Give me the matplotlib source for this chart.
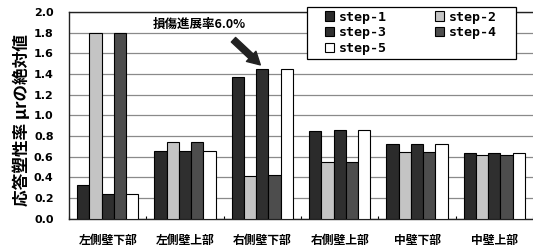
import matplotlib
matplotlib.use("Agg")
import matplotlib.pyplot as plt
import numpy as np
from matplotlib.patches import Patch, Rectangle

plt.rcParams['font.family'] = ['Noto Sans CJK JP', 'DejaVu Sans']

categories = ['左側壁下部', '左側壁上部', '右側壁下部', '右側壁上部', '中壁下部', '中壁上部']
series_names = ['step-1', 'step-2', 'step-3', 'step-4', 'step-5']
step1 = [0.33, 0.66, 1.37, 0.85, 0.72, 0.64]
step2 = [1.80, 0.74, 0.41, 0.55, 0.65, 0.62]
step3 = [0.24, 0.66, 1.45, 0.86, 0.72, 0.64]
step4 = [1.80, 0.74, 0.42, 0.55, 0.65, 0.62]
step5 = [0.24, 0.66, 1.45, 0.86, 0.72, 0.64]
y_ticks = [0.0, 0.2, 0.4, 0.6, 0.8, 1.0, 1.2, 1.4, 1.6, 1.8, 2.0]
ylabel = '応答塑性率 μrの絶対値'
annot_text = '損傷進展率6.0%'

series = [step1, step2, step3, step4, step5]
colors = ['#2b2b2b', '#c4c4c4', '#2f2f2f', '#4d4d4d', '#ffffff']

W, H = 533, 250
fig = plt.figure(figsize=(W / 100, H / 100), dpi=100)
ax = fig.add_axes([0.1295, 0.125, 0.8705, 0.827])

x = np.arange(len(categories))
bw = 0.158
handles = []
for i, (vals, c, name) in enumerate(zip(series, colors, series_names)):
    ax.bar(x + (i - 2) * bw, vals, width=bw, color=c, edgecolor='black',
           linewidth=0.8, zorder=3)
    handles.append(Patch(facecolor=c, edgecolor='black', linewidth=0.8, label=name))

ax.set_xlim(-0.5, len(categories) - 0.5)
ax.set_ylim(0, 2.0)
ax.set_yticks(y_ticks)
ax.set_yticklabels([f'{v:.1f}' for v in y_ticks], fontsize=8, fontweight='bold',
                   family=['DejaVu Sans'])
ax.set_xticks(x)
ax.set_xticklabels(categories, fontsize=8.5, fontweight='bold')
ax.set_xticks(np.arange(len(categories) + 1) - 0.5, minor=True)
ax.tick_params(axis='x', which='major', length=0, pad=11)
ax.tick_params(axis='x', which='minor', length=2.5, direction='in', width=0.8)
ax.tick_params(axis='y', length=0, pad=11)

ax.yaxis.grid(True, color='#8a8a8a', linewidth=0.9, zorder=0)
ax.set_axisbelow(True)
for s in ['left', 'bottom', 'top']:
    ax.spines[s].set_linewidth(1.0)
    ax.spines[s].set_color('#222222')
ax.spines['right'].set_visible(False)

fig.text(0.041, 0.52, ylabel, rotation=90, ha='center', va='center',
         fontsize=12, fontweight='bold')

# legend frame (figure pixel coords converted to fraction)
lx0, ly0, lx1, ly1 = 307, 7, 516, 59
fig.patches.append(Rectangle((lx0 / W, 1 - ly1 / H), (lx1 - lx0) / W, (ly1 - ly0) / H,
                             transform=fig.transFigure, facecolor='white',
                             edgecolor='black', linewidth=0.9, zorder=4))

order = [0, 2, 4, 1, 3]
leg = fig.legend([handles[i] for i in order], [series_names[i] for i in order],
                 ncol=2, loc='upper left', bbox_to_anchor=(322 / W, 1 - 8 / H),
                 frameon=False,
                 prop={'family': 'DejaVu Sans Mono', 'weight': 'bold', 'size': 9.5},
                 handlelength=0.7, handleheight=0.7, handletextpad=0.4,
                 columnspacing=3.6, labelspacing=0.2, borderpad=0.2,
                 borderaxespad=0)
leg.set_zorder(5)

ax.annotate('', xy=(x[2], step3[2] + 0.02), xytext=(x[2] - 0.40, 1.75),
            arrowprops=dict(arrowstyle='simple,head_width=1.0,head_length=0.9,tail_width=0.45',
                            color='#222222'), zorder=5)
ax.text(1.19, 1.88, annot_text, fontsize=9, fontweight='bold', ha='center', va='center',
        zorder=5)

fig.savefig('out.png', dpi=100)
